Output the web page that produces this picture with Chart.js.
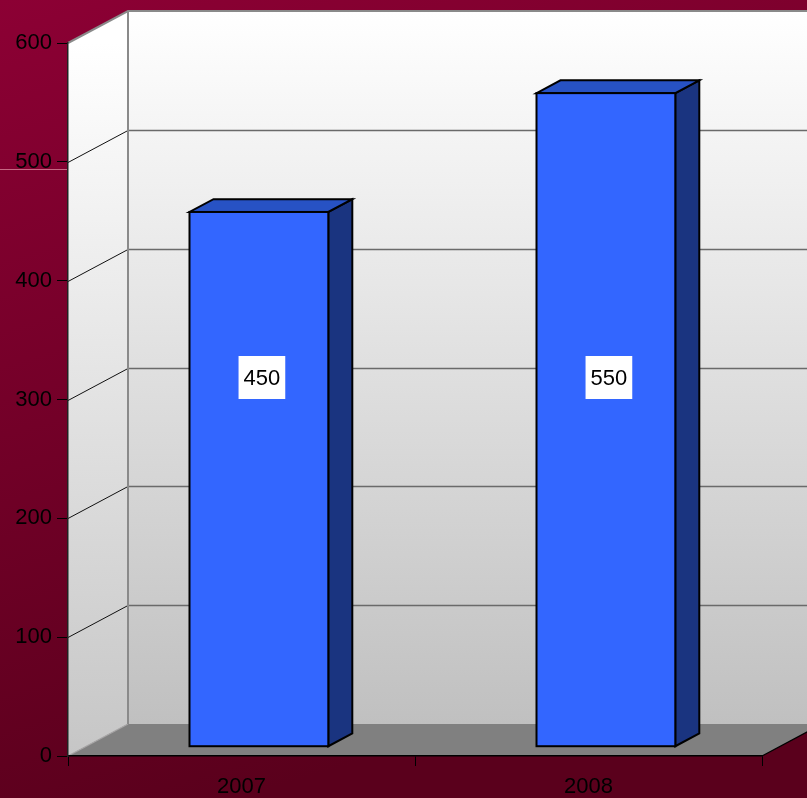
<!DOCTYPE html>
<html>
<head>
<meta charset="utf-8">
<script src="https://cdn.jsdelivr.net/npm/chart.js@4"></script>
<style>
  html, body { margin: 0; padding: 0; background: #6e0026; }
  #wrap { width: 807px; height: 798px; position: relative; }
</style>
</head>
<body>
<div id="wrap"><canvas id="chart"></canvas></div>
<script>
// Data
const years = ['2007', '2008'];
const values = [450, 550];
const yTicks = [0, 100, 200, 300, 400, 500, 600];

// 3D look
const DEPTH_X = 60, DEPTH_Y = -32;       // wall depth
const BAR_FRONT = 0.29, BAR_BACK = 0.69; // bar position inside depth

const scene3d = {
    id: 'scene3d',
    beforeDraw(chart) {
        const ctx = chart.ctx;
        const { left, right, top, bottom } = chart.chartArea;
        const y = chart.scales.y;
        const W = chart.width, H = chart.height;

        // background
        let g = ctx.createLinearGradient(0, 0, W * 0.3, H);
        g.addColorStop(0, '#8c0034');
        g.addColorStop(1, '#5a001c');
        ctx.fillStyle = g;
        ctx.fillRect(0, 0, W, H);

        // faint line on the left
        ctx.strokeStyle = 'rgba(255,190,200,0.55)';
        ctx.lineWidth = 1;
        ctx.beginPath();
        ctx.moveTo(0, 169.5); ctx.lineTo(left + DEPTH_X, 169.5);
        ctx.stroke();

        // back wall
        g = ctx.createLinearGradient(0, top + DEPTH_Y, 0, bottom + DEPTH_Y);
        g.addColorStop(0, '#ffffff');
        g.addColorStop(1, '#c0c0c0');
        ctx.fillStyle = g;
        ctx.fillRect(left + DEPTH_X, top + DEPTH_Y, W, bottom - top);

        // left wall
        g = ctx.createLinearGradient(0, top, 0, bottom);
        g.addColorStop(0, '#ffffff');
        g.addColorStop(1, '#c6c6c6');
        ctx.fillStyle = g;
        ctx.beginPath();
        ctx.moveTo(left, bottom);
        ctx.lineTo(left, top);
        ctx.lineTo(left + DEPTH_X, top + DEPTH_Y);
        ctx.lineTo(left + DEPTH_X, bottom + DEPTH_Y);
        ctx.closePath();
        ctx.fill();

        // floor
        ctx.fillStyle = '#808080';
        ctx.beginPath();
        ctx.moveTo(left, bottom);
        ctx.lineTo(right, bottom);
        ctx.lineTo(right + DEPTH_X, bottom + DEPTH_Y);
        ctx.lineTo(left + DEPTH_X, bottom + DEPTH_Y);
        ctx.closePath();
        ctx.fill();
        ctx.strokeStyle = '#000';
        ctx.lineWidth = 1.2;
        ctx.beginPath();
        ctx.moveTo(right, bottom);
        ctx.lineTo(right + DEPTH_X, bottom + DEPTH_Y);
        ctx.stroke();
        ctx.strokeStyle = '#a8a8a8';
        ctx.beginPath();
        ctx.moveTo(left, bottom);
        ctx.lineTo(left + DEPTH_X, bottom + DEPTH_Y);
        ctx.stroke();

        // grid lines: back wall + left wall
        yTicks.forEach(v => {
            if (v === 0 || v === 600) return;
            const py = Math.round(y.getPixelForValue(v)) + 0.5;
            ctx.strokeStyle = '#6a6a6a';
            ctx.lineWidth = 1.5;
            ctx.beginPath();
            ctx.moveTo(left + DEPTH_X, py + DEPTH_Y);
            ctx.lineTo(W, py + DEPTH_Y);
            ctx.stroke();
            ctx.strokeStyle = '#111';
            ctx.lineWidth = 1;
            ctx.beginPath();
            ctx.moveTo(left, py);
            ctx.lineTo(left + DEPTH_X, py + DEPTH_Y);
            ctx.stroke();
        });

        // wall edges
        ctx.strokeStyle = '#8a8a8a';
        ctx.lineWidth = 2;
        ctx.beginPath();
        ctx.moveTo(left, top);
        ctx.lineTo(left + DEPTH_X, top + DEPTH_Y);
        ctx.lineTo(W, top + DEPTH_Y);
        ctx.moveTo(left + DEPTH_X, top + DEPTH_Y);
        ctx.lineTo(left + DEPTH_X, bottom + DEPTH_Y);
        ctx.stroke();
    },
    afterDatasetsDraw(chart) {
        const ctx = chart.ctx;
        const { top, bottom } = chart.chartArea;
        const meta = chart.getDatasetMeta(0);
        const fx = DEPTH_X * BAR_FRONT, fy = DEPTH_Y * BAR_FRONT;
        const dx = DEPTH_X * (BAR_BACK - BAR_FRONT), dy = DEPTH_Y * (BAR_BACK - BAR_FRONT);
        ctx.lineJoin = 'miter';
        ctx.lineWidth = 2;
        ctx.strokeStyle = '#000';
        meta.data.forEach((bar, i) => {
            const l = bar.x - bar.width / 2 + fx;
            const r = bar.x + bar.width / 2 + fx;
            const t = bar.y + fy;
            const b = bar.base + fy;
            // side
            ctx.fillStyle = '#1a3480';
            ctx.beginPath();
            ctx.moveTo(r, b); ctx.lineTo(r, t);
            ctx.lineTo(r + dx, t + dy); ctx.lineTo(r + dx, b + dy);
            ctx.closePath(); ctx.fill(); ctx.stroke();
            // top
            ctx.fillStyle = '#2752c4';
            ctx.beginPath();
            ctx.moveTo(l, t); ctx.lineTo(r, t);
            ctx.lineTo(r + dx, t + dy); ctx.lineTo(l + dx, t + dy);
            ctx.closePath(); ctx.fill(); ctx.stroke();
            // front
            ctx.fillStyle = '#3366ff';
            ctx.fillRect(l, t, r - l, b - t);
            ctx.strokeRect(l, t, r - l, b - t);

            // value label
            const txt = String(values[i]);
            ctx.font = '22px "Liberation Sans", Arial, sans-serif';
            const tw = ctx.measureText(txt).width;
            const cx = (l + r) / 2 + 3;
            const cy = (top + bottom) / 2 - 22;
            ctx.fillStyle = '#fff';
            ctx.fillRect(cx - tw / 2 - 5, cy - 21.5, tw + 10, 43);
            ctx.fillStyle = '#000';
            ctx.textAlign = 'center';
            ctx.textBaseline = 'middle';
            ctx.fillText(txt, cx, cy + 1);
        });
    }
};

Chart.defaults.font.family = '"Liberation Sans", Arial, sans-serif';
Chart.defaults.font.size = 22;
Chart.defaults.color = '#000';

new Chart(document.getElementById('chart'), {
    type: 'bar',
    data: {
        labels: years,
        datasets: [{
            data: values,
            backgroundColor: 'rgba(0,0,0,0)',
            borderWidth: 0,
            barPercentage: 0.4,
            categoryPercentage: 1
        }]
    },
    options: {
        responsive: true,
        maintainAspectRatio: false,
        animation: false,
        layout: { padding: { top: 43, right: 45, left: 0, bottom: 0 } },
        plugins: { legend: { display: false }, tooltip: { enabled: false } },
        scales: {
            x: {
                grid: { drawOnChartArea: false, tickLength: 10, color: '#000', offset: true },
                border: { color: '#000', width: 1.5 },
                ticks: { padding: 8 },
                afterFit(s) { s.height = 42; }
            },
            y: {
                min: 0,
                max: 600,
                ticks: { stepSize: 100, padding: 5 },
                grid: { drawOnChartArea: false, tickLength: 11, color: '#000' },
                border: { color: '#222', width: 1.5 },
                afterFit(s) { s.width = 68; }
            }
        }
    },
    plugins: [scene3d]
});
</script>
</body>
</html>
